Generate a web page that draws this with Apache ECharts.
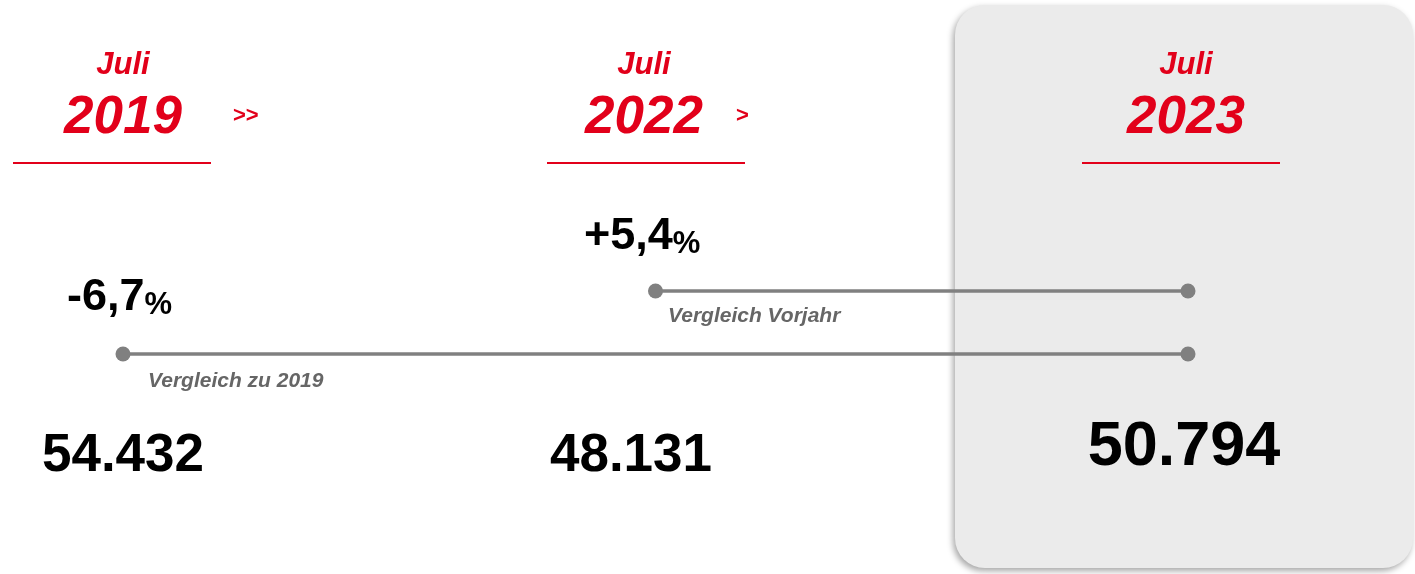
<!DOCTYPE html>
<html>
<head>
<meta charset="utf-8">
<script src="https://cdn.jsdelivr.net/npm/echarts@6/dist/echarts.min.js"></script>
<style>
  html, body { margin: 0; padding: 0; background: #fff; }
  #chart { width: 1415px; height: 574px; }
</style>
</head>
<body>
<div id="chart"></div>
<script>
// Daten
var monat = 'Juli';
var jahre = ['2019', '2022', '2023'];
var werte = ['54.432', '48.131', '50.794'];
// Veränderungen
var vglZu2019 = '-6,7';
var vglVorjahr = '+5,4';
var labelZu2019 = 'Vergleich zu 2019';
var labelVorjahr = 'Vergleich Vorjahr';

var rot = '#e2001a';
var grau = '#808080';
var font = 'Liberation Sans, Arial, sans-serif';

var myChart = echarts.init(document.getElementById('chart'));

// Spalten-Mitten (Texte)
var colX = [123, 644, 1186];
var lineX = [13, 547, 1082];

function txt(x, y, text, size, color, opts) {
  opts = opts || {};
  return {
    type: 'text',
    x: x,
    y: y,
    z: 10,
    style: {
      text: text,
      fill: color,
      font: (opts.italic ? 'italic ' : '') + 'bold ' + size + 'px ' + font,
      align: opts.align || 'center',
      verticalAlign: 'middle',
      rich: opts.rich
    }
  };
}

var graphics = [
  // grauer Kasten 2023
  {
    type: 'rect',
    z: 0,
    shape: { x: 955, y: 5, width: 458, height: 563, r: 30 },
    style: {
      fill: '#ebebeb',
      shadowColor: 'rgba(0,0,0,0.35)',
      shadowBlur: 6,
      shadowOffsetX: -2,
      shadowOffsetY: 3
    }
  }
];

jahre.forEach(function (j, i) {
  graphics.push(txt(colX[i], 65, monat, 31, rot, { italic: true }));
  graphics.push(txt(colX[i], 118, j, 53, rot, { italic: true }));
  graphics.push({
    type: 'rect',
    z: 10,
    shape: { x: lineX[i], y: 162, width: 198, height: 2 },
    style: { fill: rot }
  });
});
graphics.push(txt(233, 116, '>>', 22, rot, { align: 'left' }));
graphics.push(txt(736, 116, '>', 22, rot, { align: 'left' }));

// Werte
graphics.push(txt(123, 456, werte[0], 53, '#000'));
graphics.push(txt(631, 456, werte[1], 53, '#000'));
graphics.push(txt(1184, 448, werte[2], 63, '#000'));

// Prozente
var rich = {
  big: { fontSize: 45, fontWeight: 'bold', fontFamily: font, fill: '#000', verticalAlign: 'bottom' },
  pct: { fontSize: 31, fontWeight: 'bold', fontFamily: font, fill: '#000', verticalAlign: 'bottom' }
};
graphics.push(txt(67, 298, '{big|' + vglZu2019 + '}{pct|%}', 45, '#000', { align: 'left', rich: rich }));
graphics.push(txt(584, 237, '{big|' + vglVorjahr + '}{pct|%}', 45, '#000', { align: 'left', rich: rich }));

// Beschriftungen der Linien
graphics.push(txt(148, 381, labelZu2019, 21, '#666', { align: 'left', italic: true }));
graphics.push(txt(668, 316, labelVorjahr, 21, '#666', { align: 'left', italic: true }));

var option = {
  animation: false,
  grid: { left: 123, right: 227, top: 228, height: 189 },
  xAxis: {
    type: 'category',
    data: jahre,
    boundaryGap: false,
    show: false
  },
  yAxis: {
    type: 'value',
    min: 0,
    max: 3,
    show: false
  },
  graphic: graphics,
  series: [
    {
      name: labelZu2019,
      type: 'line',
      z: 5,
      symbol: 'circle',
      symbolSize: 15,
      lineStyle: { color: grau, width: 3.5 },
      itemStyle: { color: grau },
      data: [[jahre[0], 1], [jahre[2], 1]]
    },
    {
      name: labelVorjahr,
      type: 'line',
      z: 5,
      symbol: 'circle',
      symbolSize: 15,
      lineStyle: { color: grau, width: 3.5 },
      itemStyle: { color: grau },
      data: [[jahre[1], 2], [jahre[2], 2]]
    }
  ]
};
myChart.setOption(option, true);
window.addEventListener('resize', () => {
  myChart.resize();
});
</script>
</body>
</html>
